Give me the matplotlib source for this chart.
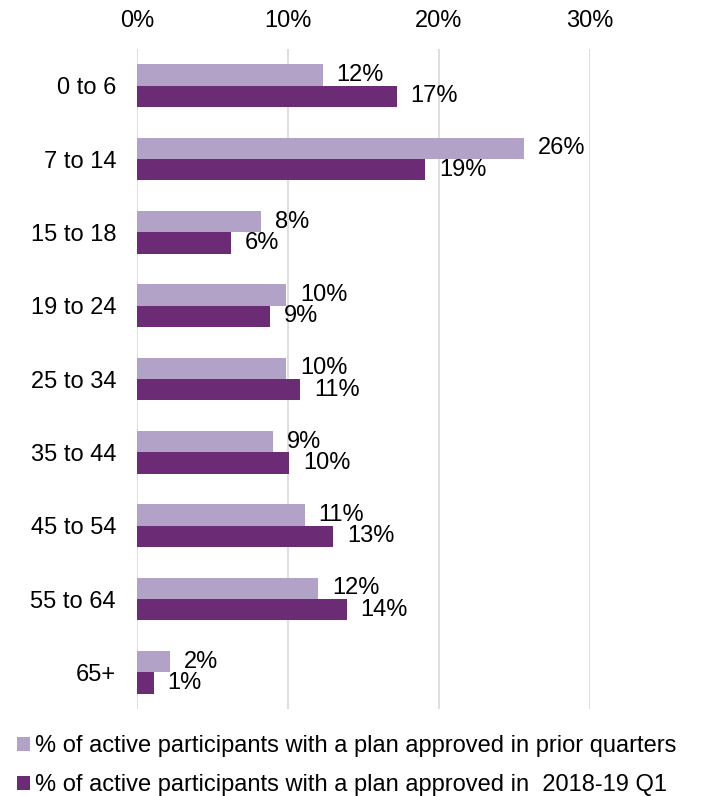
import matplotlib.pyplot as plt
import numpy as np

plt.rcParams['font.family'] = ['Liberation Sans', 'DejaVu Sans']

grupos = ["0 to 6", "7 to 14", "15 to 18", "19 to 24", "25 to 34",
          "35 to 44", "45 to 54", "55 to 64", "65+"]
previos = [12.3, 25.6, 8.2, 9.9, 9.9, 9.0, 11.1, 12.0, 2.2]
q1 = [17.2, 19.1, 6.2, 8.8, 10.8, 10.1, 13.0, 13.9, 1.1]
etiquetas_previos = ["12%", "26%", "8%", "10%", "10%", "9%", "11%", "12%", "2%"]
etiquetas_q1 = ["17%", "19%", "6%", "9%", "11%", "10%", "13%", "14%", "1%"]
nombres = ["% of active participants with a plan approved in prior quarters",
           "% of active participants with a plan approved in  2018-19 Q1"]

color_claro = "#B3A2C8"
color_oscuro = "#6B2C75"

fig = plt.figure(figsize=(7.13, 7.96), dpi=100)
ax = fig.add_axes([0.192, 0.1093, 0.6355, 0.8291])

y = np.arange(len(grupos))
alto = 0.29
b1 = ax.barh(y - alto / 2, previos, height=alto, color=color_claro, label=nombres[0])
b2 = ax.barh(y + alto / 2, q1, height=alto, color=color_oscuro, label=nombres[1])

for barra, txt in zip(b1, etiquetas_previos):
    ax.annotate(txt, (barra.get_width(), barra.get_y() + barra.get_height() / 2),
                xytext=(10, 0), textcoords="offset points",
                ha="left", va="center", fontsize=17)
for barra, txt in zip(b2, etiquetas_q1):
    ax.annotate(txt, (barra.get_width(), barra.get_y() + barra.get_height() / 2),
                xytext=(10, 0), textcoords="offset points",
                ha="left", va="center", fontsize=17)

ax.set_xlim(0, 30)
ax.set_ylim(len(grupos) - 0.5, -0.5)
ax.set_xticks([0, 10, 20, 30])
ax.set_xticklabels(["0%", "10%", "20%", "30%"])
ax.xaxis.tick_top()
ax.set_yticks(y)
ax.set_yticklabels(grupos)
ax.tick_params(axis="both", length=0, labelsize=17)
ax.tick_params(axis="y", pad=15)
ax.tick_params(axis="x", pad=12)
ax.grid(axis="x", color="#D9D9D9", linewidth=1.2)
ax.set_axisbelow(True)
for lado in ax.spines.values():
    lado.set_visible(False)

fig.legend(loc="lower left", bbox_to_anchor=(-0.006, -0.027), frameon=False,
           fontsize=17, handlelength=0.55, handleheight=0.55, handletextpad=0.2,
           labelspacing=0.72)

fig.savefig("out.png", dpi=100)
